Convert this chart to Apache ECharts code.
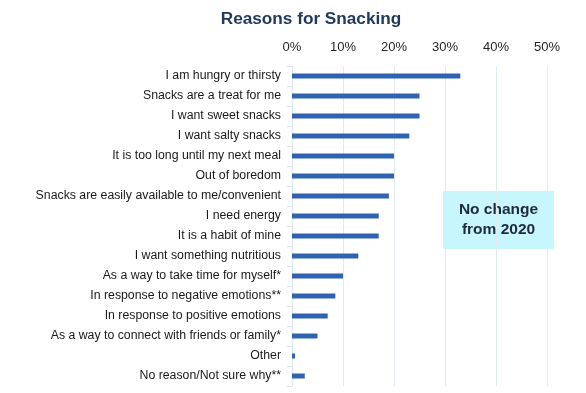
<!DOCTYPE html>
<html>
<head>
<meta charset="utf-8">
<script src="https://cdn.jsdelivr.net/npm/echarts@6/dist/echarts.min.js"></script>
<style>
html,body{margin:0;padding:0;background:#fff;}
#chart{width:586px;height:393px;}
</style>
</head>
<body>
<div id="chart"></div>
<script>
const titleText = 'Reasons for Snacking';
const categories = [
  'I am hungry or thirsty',
  'Snacks are a treat for me',
  'I want sweet snacks',
  'I want salty snacks',
  'It is too long until my next meal',
  'Out of boredom',
  'Snacks are easily available to me/convenient',
  'I need energy',
  'It is a habit of mine',
  'I want something nutritious',
  'As a way to take time for myself*',
  'In response to negative emotions**',
  'In response to positive emotions',
  'As a way to connect with friends or family*',
  'Other',
  'No reason/Not sure why**'
];
const values = [33, 25, 25, 23, 20, 20, 19, 17, 17, 13, 10, 8.5, 7, 5, 0.6, 2.5];
const xTicks = [0, 10, 20, 30, 40, 50];
const noteLines = ['No change', 'from 2020'];

const chart = echarts.init(document.getElementById('chart'));
chart.setOption({
  backgroundColor: '#ffffff',
  animation: false,
  title: {
    text: titleText,
    left: 306,
    top: 6,
    textAlign: 'center',
    textStyle: {fontFamily: 'Liberation Sans, Arial', fontWeight: 'bold', fontSize: 17.2, color: '#213a5c'}
  },
  grid: {left: 292, right: 39, top: 66, bottom: 7, containLabel: false},
  xAxis: {
    type: 'value',
    position: 'top',
    min: xTicks[0],
    max: xTicks[xTicks.length - 1],
    interval: 10,
    axisLine: {show: false},
    axisTick: {show: false},
    splitLine: {lineStyle: {color: '#e2eaf4', width: 1}},
    axisLabel: {
      margin: 12,
      fontFamily: 'Liberation Sans, Arial',
      fontSize: 13,
      color: '#262626',
      formatter: v => v + '%'
    }
  },
  yAxis: {
    type: 'category',
    inverse: true,
    data: categories,
    axisLine: {show: true, lineStyle: {color: '#dde5ef', width: 1}},
    axisTick: {show: true, length: 5, lineStyle: {color: '#dde5ef'}},
    axisLabel: {
      margin: 11,
      fontFamily: 'Liberation Sans, Arial',
      fontSize: 12.3,
      color: '#1a1a1a'
    }
  },
  series: [{
    type: 'bar',
    data: values,
    barWidth: 5,
    itemStyle: {color: '#2f62b0'},
    silent: true
  }],
  graphic: [{
    type: 'group',
    left: 443,
    top: 191,
    children: [
      {type: 'rect', shape: {x: 0, y: 0, width: 111, height: 58}, style: {fill: '#c7f6fc'}},
      {type: 'text', style: {
        x: 55.5, y: 29, text: noteLines.join('\n'), align: 'center', verticalAlign: 'middle',
        font: 'bold 15.5px "Liberation Sans", Arial', lineHeight: 20, fill: '#1f2b3b'
      }}
    ]
  }]
});
</script>
</body>
</html>
